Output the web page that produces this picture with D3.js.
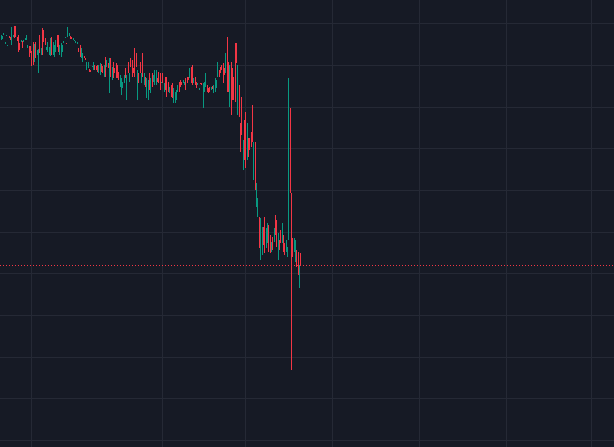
<!DOCTYPE html>
<html>
<head>
<meta charset="utf-8">
<script src="https://cdn.jsdelivr.net/npm/d3@7"></script>
<style>
html,body{margin:0;padding:0;background:#161a25;overflow:hidden;}
svg{display:block;}
</style>
</head>
<body>
<script>
// Candle direction per bar: "G" = up (close above open), "R" = down; 10 bars per chunk
const dirChunks = [
  "GGGGGGRRGG","RRRRRGRGGG","GRRRRGRGGR","GRRRGGGGRG","GGRRGGGGGR",
  "GGRRGGGGRR","GGRRGGRRGG","RRRGGRRGRG","RGRGRRRRRG","GGGRGRGRRR",
  "RRGRRGRGRG","GRGRGGGRRR","GRGRRRGRRG","GGGRRRGGRR","RGRRGRRGGR",
  "RGGGRRRGRG","GGGRRRRRGR","RGRRRRRGRR","RGRRGRRRRG","RGGRGGRRGG",
  "RRGRGRRGRR","GRRGGGRRRG","GRRGR"
];
const dir = dirChunks.join("").split("");

const highP = [98.6,98.5,98.8,97.8,98.6,97.4,98.5,98.4,99.6,98.6,99.7,99.7,98.4,98.6,97.6,98.0,97.9,98.0,98.2,98.6,
97.4,97.3,97.3,96.7,97.8,97.5,97.8,96.8,96.9,98.6,97.0,99.4,99.2,98.2,97.2,97.8,97.2,98.2,98.4,97.8,
97.4,98.0,98.6,98.6,97.4,97.6,97.4,97.9,98.4,97.6,99.6,98.8,98.5,98.4,98.2,98.0,97.9,97.8,97.0,97.4,
97.0,96.4,96.1,95.8,95.4,95.4,94.5,94.4,94.9,95.4,95.0,94.9,95.0,95.0,95.2,95.1,94.9,95.0,96.0,95.6,
95.2,95.8,95.8,94.8,95.4,94.6,95.2,95.0,94.2,93.8,93.4,93.0,93.8,94.6,93.8,95.4,94.0,95.8,95.6,94.6,
97.0,96.4,94.4,94.0,95.4,94.0,96.4,94.0,93.6,93.4,93.2,94.0,93.4,94.0,93.8,94.4,94.4,93.4,94.2,94.0,
93.0,94.0,92.8,93.6,93.6,93.0,92.4,92.6,92.8,92.2,91.8,92.0,92.6,93.0,93.2,93.0,93.2,93.0,93.4,93.6,
93.6,94.6,94.8,95.0,93.4,93.6,93.0,92.8,92.2,92.8,92.8,92.8,93.0,94.0,92.6,92.2,92.4,92.4,92.5,92.6,
93.4,93.2,95.4,94.4,94.8,95.0,95.2,94.6,96.4,98.4,95.4,95.0,95.4,94.6,93.6,97.6,97.6,95.0,92.6,88.0,
91.2,86.0,88.4,89.4,88.0,86.2,86.2,87.0,90.2,85.8,85.8,80.8,79.0,76.8,76.6,75.6,75.6,76.8,75.4,76.0,
75.8,74.6,73.8,74.4,75.4,77.0,76.4,74.8,74.0,75.2,76.0,74.6,73.6,74.0,73.2,93.4,89.8,79.6,74.2,74.2,
74.0,72.8,72.6,71.0,72.4];

const lowP = [98.0,98.1,98.6,97.5,98.5,97.3,98.2,98.0,97.4,98.4,98.2,98.4,97.9,96.6,96.8,97.8,97.0,97.8,98.0,98.0,
97.0,96.0,96.4,94.9,95.0,95.4,95.8,96.2,94.0,96.4,96.2,96.2,97.8,97.4,96.8,96.6,96.2,96.1,96.2,96.2,
96.0,96.6,97.2,96.6,96.2,96.0,96.6,97.6,98.2,97.5,98.4,98.5,98.1,98.1,98.0,97.9,97.6,97.5,96.6,96.0,
95.8,95.4,95.8,95.6,94.4,94.6,94.2,94.2,94.8,94.4,94.4,94.4,94.2,94.0,93.8,94.2,94.0,93.6,93.6,94.8,
94.6,91.6,93.6,93.2,93.4,94.0,93.4,93.4,93.2,92.4,91.4,92.2,92.8,93.4,90.8,94.0,93.0,94.8,93.6,94.0,
93.6,94.8,90.8,92.8,94.0,92.8,93.6,92.6,92.4,91.0,90.8,92.0,91.6,92.4,93.0,92.6,92.6,93.0,92.8,92.0,
92.8,92.8,91.8,92.0,91.2,91.8,91.6,91.2,91.0,90.4,90.4,90.8,91.8,91.8,92.4,92.6,92.8,92.6,92.0,92.8,
93.2,93.4,92.8,92.6,92.8,92.6,92.2,92.6,92.0,92.7,92.6,89.8,91.8,92.4,91.8,91.6,91.8,92.0,92.1,91.6,
91.8,92.2,93.6,93.6,94.0,94.4,92.8,93.8,94.0,91.8,91.8,90.0,89.0,90.8,90.8,90.6,95.2,89.0,88.8,84.6,
86.6,82.4,83.6,82.6,83.6,84.0,84.8,85.2,85.8,81.2,80.0,78.0,76.8,73.0,71.6,72.2,73.4,72.4,73.0,73.6,
72.6,72.4,72.6,72.8,73.8,74.6,73.2,71.6,72.8,73.6,73.6,72.6,72.2,72.6,72.0,74.0,79.6,58.4,72.0,72.6,
71.4,70.8,69.8,68.2,71.0];

// Open / close: down bars open at their high and close at their low, up bars the reverse
const openP  = highP.map((h, i) => dir[i] === "R" ? h : lowP[i]);
const closeP = highP.map((h, i) => dir[i] === "R" ? lowP[i] : h);

// Price grid (no labels visible) and time grid positions (bar index)
const priceTicks = [50,55,60,65,70,75,80,85,90,95,100];
const timeGridIdx = [22,120,182,247,312,377,441];

const W = 614, H = 447;
const N = highP.length;

const svg = d3.select("body").append("svg").attr("width", W).attr("height", H);
svg.append("rect").attr("width", W).attr("height", H).attr("fill", "#161a25");

const x = d3.scaleLinear().domain([-0.792, 458.03]).range([0, W]);
const y = d3.scaleLinear().domain([49.16, 102.8]).range([H, 0]);

const gy = svg.append("g")
  .call(d3.axisRight(y).tickValues(priceTicks).tickSize(W).tickFormat(""));
gy.select(".domain").remove();
gy.selectAll("line").attr("stroke", "#252935").attr("shape-rendering", "crispEdges");

const gx = svg.append("g")
  .call(d3.axisBottom(x).tickValues(timeGridIdx).tickSize(H).tickFormat(""));
gx.select(".domain").remove();
gx.selectAll("line").attr("stroke", "#252935").attr("shape-rendering", "crispEdges");

const data = d3.range(N).map(i => ({i, o: openP[i], h: highP[i], l: lowP[i], c: closeP[i]}));
const up = "#089981", down = "#f23645";

svg.append("g").selectAll("rect").data(data).join("rect")
  .attr("x", d => Math.round(x(d.i) - 0.5))
  .attr("width", 1)
  .attr("y", d => Math.round(y(d.h)))
  .attr("height", d => Math.max(1, Math.round(y(d.l)) - Math.round(y(d.h))))
  .attr("fill", d => d.c >= d.o ? up : down)
  .attr("shape-rendering", "crispEdges");

const last = closeP[N - 1];
svg.append("line")
  .attr("x1", 0).attr("x2", W)
  .attr("y1", Math.round(y(last)) + 0.5).attr("y2", Math.round(y(last)) + 0.5)
  .attr("stroke", down).attr("stroke-width", 1)
  .attr("stroke-dasharray", "1,2");
</script>
</body>
</html>
